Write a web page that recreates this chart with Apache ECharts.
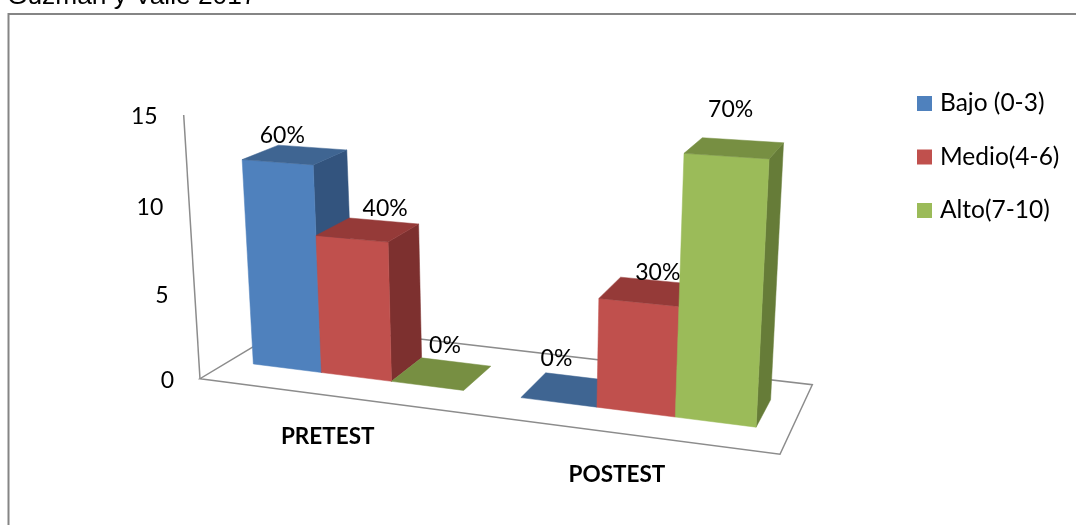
<!DOCTYPE html>
<html>
<head>
<meta charset="utf-8">
<style>html,body{margin:0;padding:0;background:#fff}#c{width:1076px;height:525px}</style>
<script src="https://cdn.jsdelivr.net/npm/echarts@6/dist/echarts.min.js"></script>
</head>
<body>
<div id="c"></div>
<script>
const categories = ['PRETEST', 'POSTEST'];
const levels = ['Bajo (0-3)', 'Medio(4-6)', 'Alto(7-10)'];
const students = [
  [12, 0],
  [8, 6],
  [0, 14]
];
const totalStudents = 20;
const yTicks = [0, 5, 10, 15];

const faceColors = [
  { front: '#4F81BD', top: '#3F6592', side: '#33547E' },
  { front: '#C0504D', top: '#953A38', side: '#7D302F' },
  { front: '#9BBB59', top: '#778F42', side: '#667C38' }
];
const FONT = 'Lato, "Noto Sans", sans-serif';
const LINE = '#8C8C8C';

// Corners of the floor and of the plane at the axis maximum, front-left first, anticlockwise.
const floorQuad = [[200, 378.7], [780, 454.3], [812.3, 384.7], [291, 324]];
const ceilQuad = [[183.7, 115], [796, 154], [828, 115], [277.5, 84]];
const heightWarp = 1.04;
const barDepth = [0.3, 0.7];
const barShare = 0.265;
const clusterShift = -0.004;
const labelNudge = [
  [[-13, -19], [-14, -31]],
  [[17, -21], [9, -19]],
  [[3, -28], [-4, -38]]
];
const grid = { left: 200, top: 115, width: 580, height: 264 };

function homography(q) {
  const [[x0, y0], [x1, y1], [x2, y2], [x3, y3]] = q;
  const dx1 = x1 - x2, dx2 = x3 - x2, sx = x0 - x1 + x2 - x3;
  const dy1 = y1 - y2, dy2 = y3 - y2, sy = y0 - y1 + y2 - y3;
  const den = dx1 * dy2 - dx2 * dy1;
  const g = (sx * dy2 - dx2 * sy) / den, h = (dx1 * sy - sx * dy1) / den;
  const a = x1 - x0 + g * x1, b = x3 - x0 + h * x3;
  const d = y1 - y0 + g * y1, e = y3 - y0 + h * y3;
  return (u, v) => {
    const w = g * u + h * v + 1;
    return [(a * u + b * v + x0) / w, (d * u + e * v + y0) / w];
  };
}
const floorMap = homography(floorQuad);
const ceilMap = homography(ceilQuad);

// u: position along the category axis, d: depth, t: fraction of the value axis.
function project(u, d, t) {
  const f = t / (heightWarp - (heightWarp - 1) * t);
  const p = floorMap(u, d), q = ceilMap(u, d);
  return [p[0] + (q[0] - p[0]) * f, p[1] + (q[1] - p[1]) * f];
}
function fractions(api, cat, value) {
  const c = api.coord([cat, value]);
  return {
    u: (c[0] - grid.left) / grid.width,
    t: (grid.top + grid.height - c[1]) / grid.height,
    band: api.size([1, 0])[0] / grid.width
  };
}
function face(points, fill) {
  return { type: 'polygon', shape: { points }, style: { fill, stroke: fill, lineWidth: 0.5 } };
}

function barSeries(levelIndex) {
  return {
    type: 'custom',
    name: levels[levelIndex],
    coordinateSystem: 'cartesian2d',
    itemStyle: { color: faceColors[levelIndex].front },
    z: 3 + levelIndex,
    silent: true,
    data: students[levelIndex].map((v, i) => [i, v]),
    encode: { x: 0, y: 1 },
    renderItem(params, api) {
      const cat = api.value(0), value = api.value(1);
      const { u, t, band } = fractions(api, cat, value);
      const w = band * barShare;
      const u0 = u + clusterShift + (levelIndex - 1.5) * w, u1 = u0 + w;
      const [d0, d1] = barDepth;
      const col = faceColors[levelIndex];
      const top = [project(u0, d0, t), project(u1, d0, t), project(u1, d1, t), project(u0, d1, t)];
      const children = [];
      if (value > 0) {
        children.push(face([project(u1, d0, 0), project(u1, d1, 0), top[2], top[1]], col.side));
        children.push(face([project(u0, d0, 0), project(u1, d0, 0), top[1], top[0]], col.front));
      }
      children.push(face(top, col.top));
      return { type: 'group', children };
    }
  };
}

const frameSeries = {
  type: 'custom',
  coordinateSystem: 'cartesian2d',
  z: 1,
  silent: true,
  data: [[0, 0]],
  renderItem() {
    const pts = [project(0, 0, 0), project(1, 0, 0), project(1, 1, 0), project(0, 1, 0)];
    const head = project(0, 0, 1);
    return {
      type: 'group',
      children: [
        { type: 'polygon', shape: { points: pts }, style: { fill: 'none', stroke: LINE, lineWidth: 1.5 } },
        { type: 'line', shape: { x1: pts[0][0], y1: pts[0][1], x2: head[0], y2: head[1] }, style: { stroke: LINE, lineWidth: 1.5 } }
      ]
    };
  }
};

const tickSeries = {
  type: 'custom',
  coordinateSystem: 'cartesian2d',
  z: 2,
  silent: true,
  data: yTicks.map(v => [0, v]),
  encode: { y: 1 },
  renderItem(params, api) {
    const { t } = fractions(api, 0, api.value(1));
    const p = project(0, 0, t);
    return { type: 'text', style: { text: String(api.value(1)), x: p[0] - 26, y: p[1] + 2, align: 'right', verticalAlign: 'middle', font: '23px ' + FONT, fill: '#000' } };
  }
};

const categorySeries = {
  type: 'custom',
  coordinateSystem: 'cartesian2d',
  z: 2,
  silent: true,
  data: categories.map((c, i) => [i, 0]),
  renderItem(params, api) {
    const i = api.value(0);
    const { u } = fractions(api, i, 0);
    const p = project(u, 0, 0);
    return { type: 'text', style: { text: categories[i], x: p[0] - 5, y: p[1] + 41, align: 'center', verticalAlign: 'middle', font: 'bold 22.5px ' + FONT, fill: '#000' } };
  }
};

const labelSeries = {
  type: 'custom',
  coordinateSystem: 'cartesian2d',
  z: 10,
  silent: true,
  data: students.flatMap((row, s) => row.map((v, i) => [i, v, s])),
  encode: { x: 0, y: 1 },
  renderItem(params, api) {
    const cat = api.value(0), value = api.value(1), s = api.value(2);
    const { u, t, band } = fractions(api, cat, value);
    const w = band * barShare;
    const u0 = u + clusterShift + (s - 1.5) * w;
    const p = project(u0 + w / 2, 0.5, t);
    const n = labelNudge[s][cat];
    return { type: 'text', style: { text: Math.round(value / totalStudents * 100) + '%', x: p[0] + n[0], y: p[1] + n[1], align: 'center', verticalAlign: 'middle', font: '23px ' + FONT, fill: '#000' } };
  }
};

const chart = echarts.init(document.getElementById('c'), null, { renderer: 'canvas' });
chart.setOption({
  animation: false,
  backgroundColor: '#fff',
  grid: grid,
  xAxis: { type: 'category', data: categories, show: false },
  yAxis: { type: 'value', min: 0, max: 15, interval: 5, show: false },
  legend: {
    orient: 'vertical',
    left: 917,
    top: 91,
    padding: 0,
    itemWidth: 15,
    itemHeight: 15,
    itemGap: 28.5,
    icon: 'rect',
    selectedMode: false,
    data: levels,
    textStyle: { fontFamily: 'Lato', fontSize: 24.5, color: '#000', padding: [0, 0, 0, 3] }
  },
  graphic: [
    { type: 'polyline', shape: { points: [[8.5, 525], [8.5, 14], [1076, 14]] }, style: { fill: 'none', stroke: '#858585', lineWidth: 2 } },
    { type: 'text', style: { text: 'Guzmán y Valle 2017', x: 7, y: 9.5, verticalAlign: 'bottom', font: '26.3px "Liberation Sans"', fill: '#000' } }
  ],
  series: [frameSeries, tickSeries, categorySeries, barSeries(0), barSeries(1), barSeries(2), labelSeries]
});
</script>
</body>
</html>
